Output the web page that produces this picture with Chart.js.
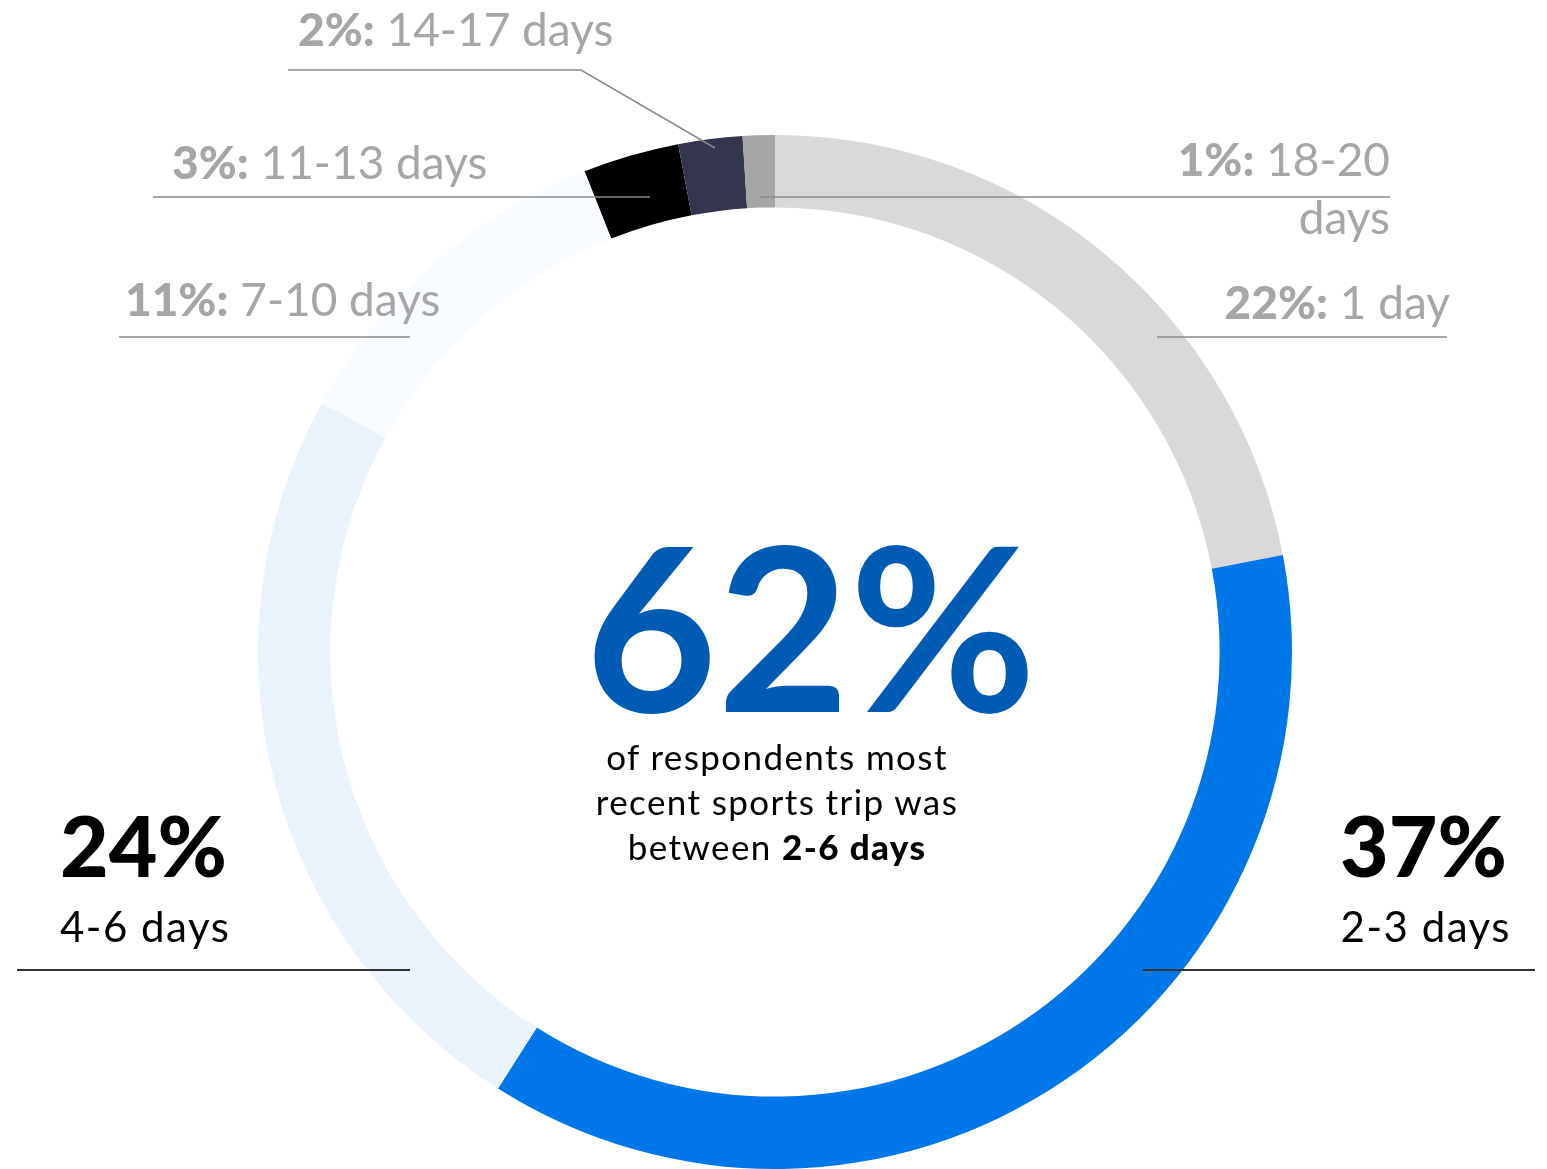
<!DOCTYPE html>
<html>
<head>
<meta charset="utf-8">
<script src="https://cdn.jsdelivr.net/npm/chart.js@4.4.0/dist/chart.umd.min.js"></script>
<style>
  html, body { margin: 0; padding: 0; background: #fff; }
  #wrap { position: relative; width: 1547px; height: 1169px; overflow: hidden; font-family: Lato, sans-serif; }
  #chart { position: absolute; left: 0; top: 0; }
  .lbl { position: absolute; white-space: nowrap; line-height: 1; }
  .minor { color: #a6a6a6; font-size: 46px; }
  .minor b { font-weight: 900; }
  .big { color: #000; font-size: 84px; font-weight: 900; }
  .sub { color: #000; font-size: 42px; letter-spacing: 1.5px; }
  .headline { color: #005bb5; font-size: 228px; font-weight: 700; }
  .note { color: #000; font-size: 35px; text-align: center; width: 500px; letter-spacing: 1.4px; }
  .note b { font-weight: 900; }
</style>
</head>
<body>
<div id="wrap">
  <canvas id="chart" width="1547" height="1169"></canvas>
</div>
<script>
// slices clockwise from 12 o'clock
const categories = ['1 day', '2-3 days', '4-6 days', '7-10 days', '11-13 days', '14-17 days', '18-20 days'];
const shares = [22, 37, 24, 11, 3, 2, 1];
const headlineShare = 62;
const noteLines = ['of respondents most', 'recent sports trip was', 'between <b>2-6 days</b>'];

const sliceColors = ['#d9d9d9', '#0077e8', '#eaf2fc', '#f8fbff', '#000000', '#33364e', '#a6a6a6'];

// small gray labels: [index, x, baseline, align]
const minorLabels = [
  [5, 298, 47, 'left'],
  [4, 172, 180, 'left'],
  [3, 125, 317, 'left'],
  [0, 1450, 320, 'right']
];
// big labels for the two blue-ish slices
const bigLabels = [
  [2, 60, 878, 942, 'left'],
  [1, 1507, 878, 942, 'right']
];

const leaderLines = [
  { c: '#8a8a8a', w: 1.5, pts: [[288, 70], [581, 70], [715, 148]] },
  { c: '#8a8a8a', w: 1.5, pts: [[153, 197], [650, 197]] },
  { c: '#8a8a8a', w: 1.5, pts: [[119, 337], [410, 337]] },
  { c: '#8a8a8a', w: 1.5, pts: [[760, 197], [1390, 197]] },
  { c: '#8a8a8a', w: 1.5, pts: [[1157, 337], [1447, 337]] },
  { c: '#333333', w: 2, pts: [[17, 970], [410, 970]] },
  { c: '#333333', w: 2, pts: [[1143, 970], [1535, 970]] }
];

const wrap = document.getElementById('wrap');
const ASC = 0.887; // Lato baseline offset in a line-height:1 box

function addLabel(html, cls, x, baseline, fs, align) {
  const el = document.createElement('div');
  el.className = 'lbl ' + cls;
  el.innerHTML = html;
  el.style.top = (baseline - ASC * fs) + 'px';
  if (align === 'right') el.style.right = (1547 - x) + 'px';
  else el.style.left = x + 'px';
  wrap.appendChild(el);
  return el;
}

minorLabels.forEach(([i, x, y, align]) => {
  addLabel(`<b>${shares[i]}%:</b> ${categories[i]}`, 'minor', x, y, 46, align);
});
// the 18-20 label wraps onto two lines
addLabel(`<b>${shares[6]}%:</b> 18-20`, 'minor', 1390, 177, 46, 'right');
addLabel('days', 'minor', 1390, 235, 46, 'right');

bigLabels.forEach(([i, x, y1, y2, align]) => {
  addLabel(`${shares[i]}%`, 'big', x, y1, 84, align);
  addLabel(categories[i], 'sub', align === 'right' ? x + 4 : x, y2, 42, align);
});

addLabel(`${headlineShare}%`, 'headline', 585, 712, 228, 'left');
noteLines.forEach((t, k) => {
  addLabel(t, 'note', 527, 770 + k * 45, 35, 'left');
});

const leaderPlugin = {
  id: 'leaders',
  afterDraw(chart) {
    const ctx = chart.ctx;
    ctx.save();
    leaderLines.forEach(l => {
      ctx.strokeStyle = l.c;
      ctx.lineWidth = l.w;
      ctx.beginPath();
      l.pts.forEach((p, k) => k ? ctx.lineTo(p[0], p[1]) : ctx.moveTo(p[0], p[1]));
      ctx.stroke();
    });
    ctx.restore();
  }
};

new Chart(document.getElementById('chart'), {
  type: 'doughnut',
  data: {
    labels: categories,
    datasets: [{
      data: shares,
      backgroundColor: sliceColors,
      borderWidth: 0
    }]
  },
  options: {
    responsive: false,
    animation: false,
    cutout: '86%',
    rotation: 0,
    layout: { padding: { left: 258, right: 255, top: 135, bottom: 0 } },
    plugins: { legend: { display: false }, tooltip: { enabled: false } }
  },
  plugins: [leaderPlugin]
});
</script>
</body>
</html>
